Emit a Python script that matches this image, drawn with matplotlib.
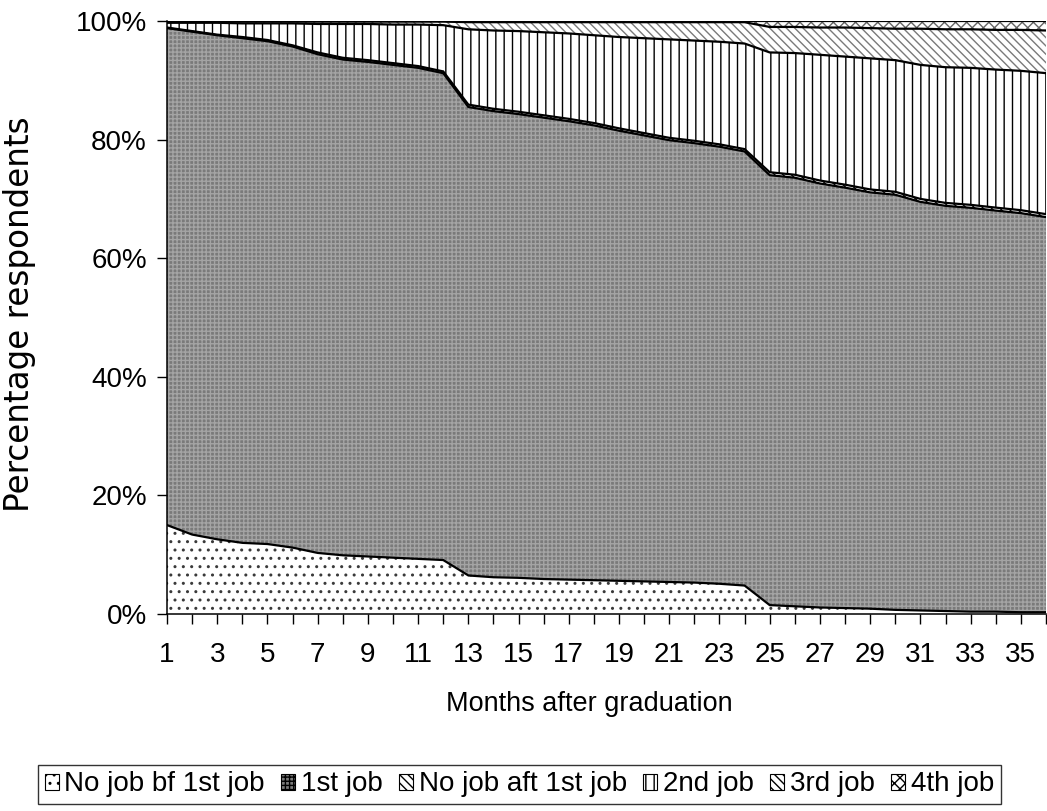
import numpy as np
import matplotlib.pyplot as plt
from matplotlib.patches import Patch
from matplotlib.ticker import FuncFormatter

# months after graduation
months = list(range(1, 37))

# share of respondents in each state (%)
no_job_bf = [15.0, 13.4, 12.6, 12.0, 11.8, 11.2, 10.3, 9.9, 9.7, 9.5, 9.3, 9.1,
             6.5, 6.2, 6.1, 5.9, 5.8, 5.7, 5.6, 5.5, 5.4, 5.3, 5.1, 4.8,
             1.5, 1.3, 1.1, 1.0, 0.9, 0.7, 0.6, 0.5, 0.4, 0.4, 0.3, 0.3]
first_job = [83.8, 84.8, 85.0, 85.1, 84.8, 84.5, 84.1, 83.6, 83.4, 83.1, 82.8, 82.1,
             79.0, 78.6, 78.2, 77.8, 77.3, 76.7, 75.9, 75.2, 74.5, 74.1, 73.7, 73.2,
             72.5, 72.2, 71.5, 70.9, 70.2, 70.0, 68.9, 68.4, 68.1, 67.7, 67.3, 66.7]
no_job_aft = [0.1, 0.1, 0.1, 0.2, 0.2, 0.2, 0.3, 0.3, 0.3, 0.3, 0.3, 0.3,
              0.4, 0.4, 0.4, 0.4, 0.4, 0.4, 0.4, 0.4, 0.4, 0.4, 0.4, 0.4,
              0.5, 0.5, 0.5, 0.5, 0.5, 0.5, 0.5, 0.5, 0.5, 0.5, 0.5, 0.5]
second_job = [0.8, 1.4, 2.0, 2.3, 2.8, 3.7, 4.8, 5.7, 6.1, 6.5, 7.0, 7.8,
              12.7, 13.2, 13.6, 14.0, 14.4, 14.8, 15.4, 16.0, 16.6, 16.9, 17.3, 17.8,
              20.2, 20.5, 21.2, 21.6, 22.1, 22.2, 22.6, 22.9, 23.1, 23.3, 23.5, 23.8]
third_job = [0.2, 0.2, 0.2, 0.3, 0.3, 0.3, 0.4, 0.4, 0.4, 0.5, 0.5, 0.6,
             1.2, 1.4, 1.5, 1.7, 1.9, 2.2, 2.5, 2.7, 2.9, 3.1, 3.3, 3.6,
             4.3, 4.4, 4.6, 4.9, 5.1, 5.3, 6.1, 6.4, 6.5, 6.7, 6.9, 7.2]
fourth_job = [0.1, 0.1, 0.1, 0.1, 0.1, 0.1, 0.1, 0.1, 0.1, 0.1, 0.1, 0.1,
              0.2, 0.2, 0.2, 0.2, 0.2, 0.2, 0.2, 0.2, 0.2, 0.2, 0.2, 0.2,
              1.0, 1.0, 1.1, 1.1, 1.2, 1.3, 1.3, 1.4, 1.4, 1.5, 1.5, 1.6]

labels = ['No job bf 1st job', '1st job', 'No job aft 1st job',
          '2nd job', '3rd job', '4th job']

plt.rcParams['font.family'] = ['Liberation Sans', 'DejaVu Sans']
plt.rcParams['hatch.linewidth'] = 1.0

# 100% stacked
series = np.array([no_job_bf, first_job, no_job_aft, second_job, third_job, fourth_job])
pct = series / series.sum(axis=0) * 100
tops = np.cumsum(pct, axis=0)
bottoms = tops - pct

styles = [
    dict(facecolor='white', hatch='..', edgecolor='#3a3a3a'),
    dict(facecolor='#7a7a7a', hatch='++++', edgecolor='#a4a4a4'),
    dict(facecolor='white', hatch='\\\\\\\\', edgecolor='black'),
    dict(facecolor='white', hatch='||', edgecolor='black'),
    dict(facecolor='white', hatch='\\\\\\\\', edgecolor='#7a7a7a'),
    dict(facecolor='white', hatch='xxx', edgecolor='#666666'),
]

fig = plt.figure(figsize=(10.47, 8.11), dpi=100)
ax = fig.add_axes([0.1595, 0.2429, 0.8395, 0.7312])

for i in range(len(labels)):
    ax.fill_between(months, bottoms[i], tops[i], linewidth=0, **styles[i])
for i in range(len(labels)):
    ax.plot(months, tops[i], color='black', lw=1.6, solid_joinstyle='miter')

ax.set_xlim(1, 36)
ax.set_ylim(0, 100)
ax.set_yticks([0, 20, 40, 60, 80, 100])
ax.yaxis.set_major_formatter(FuncFormatter(lambda v, p: f'{v:.0f}%'))
ax.set_xticks(months)
ax.set_xticklabels([str(m) if m % 2 == 1 else '' for m in months])
ax.tick_params(axis='both', direction='out', length=7.5, width=1, labelsize=20)
ax.tick_params(axis='x', pad=13)
ax.tick_params(axis='y', pad=7)

for s in ['top', 'right']:
    ax.spines[s].set_visible(False)
for s in ['left', 'bottom']:
    ax.spines[s].set_linewidth(1.1)

ax.set_xlabel('Months after graduation', fontsize=19.5)
ax.xaxis.set_label_coords(0.481, -0.13)
ax.set_ylabel('Percentage respondents', fontsize=23.5, family=['DejaVu Sans'])
ax.yaxis.set_label_coords(-0.149, 0.505)

handles = [Patch(facecolor=st['facecolor'], hatch=st['hatch'], edgecolor='black', linewidth=0.8)
           for st in styles]
fig.legend(handles, labels, loc='center', bbox_to_anchor=(0.496, 0.0327), ncol=6,
           frameon=True, fancybox=False, edgecolor='black', fontsize=20,
           handlelength=0.5, handleheight=0.5, handletextpad=0.2,
           columnspacing=0.6, borderpad=0.25, borderaxespad=0)

fig.savefig('out.png', dpi=100)
